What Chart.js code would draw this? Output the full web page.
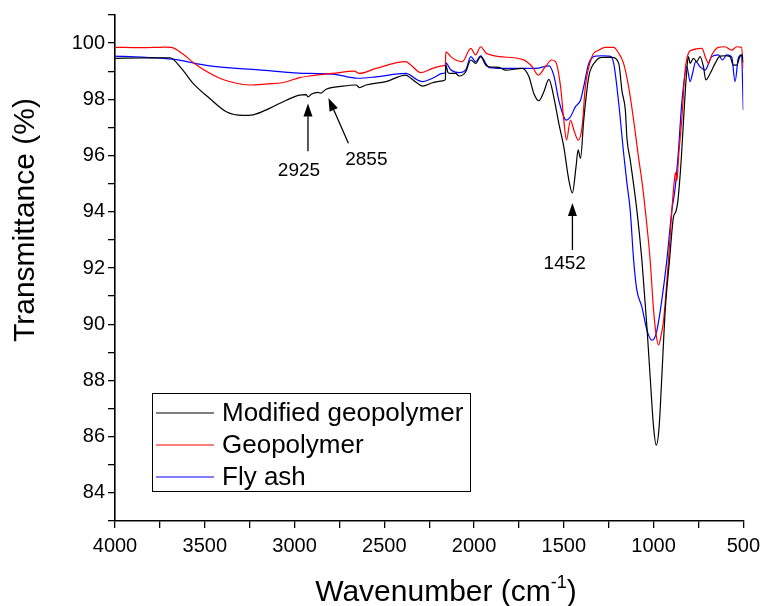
<!DOCTYPE html>
<html>
<head>
<meta charset="utf-8">
<script src="https://cdn.jsdelivr.net/npm/chart.js@4.4.1/dist/chart.umd.min.js"></script>
<style>
  html, body { margin: 0; padding: 0; background: #fff; }
  #ftir { display: block; }
</style>
</head>
<body>
<canvas id="ftir" width="766" height="606"></canvas>
<script>
// FTIR spektri: modifikovani geopolimer, geopolimer, leteći pepeo
const modWn = [4000, 3850, 3694, 3630, 3565, 3472, 3380, 3287, 3231, 3139, 3046, 2972, 2935, 2925, 2905, 2870, 2855, 2824, 2731, 2657, 2639, 2602, 2491, 2380, 2352, 2315, 2287, 2231, 2176, 2160, 2157, 2145, 2130, 2102, 2083, 2046, 2018, 1991, 1963, 1935, 1917, 1861, 1824, 1731, 1694, 1667, 1639, 1611, 1583, 1556, 1528, 1500, 1472, 1452, 1432, 1420, 1407, 1389, 1361, 1324, 1287, 1231, 1194, 1176, 1157, 1148, 1130, 1093, 1065, 1037, 1019, 1000, 985, 969, 954, 935, 911, 889, 876, 865, 852, 846, 833, 815, 806, 796, 778, 759, 741, 722, 709, 685, 657, 630, 602, 574, 556, 537, 519, 506, 500];
const modT = [99.46, 99.47, 99.48, 99.1, 98.57, 98.03, 97.56, 97.43, 97.45, 97.68, 97.97, 98.15, 98.17, 98.09, 98.19, 98.25, 98.22, 98.36, 98.47, 98.51, 98.42, 98.51, 98.63, 98.86, 98.75, 98.57, 98.47, 98.59, 98.66, 98.7, 99.22, 98.95, 98.92, 98.92, 98.83, 98.98, 99.4, 99.28, 99.52, 99.22, 99.16, 99.14, 99.04, 99.1, 98.8, 98.21, 97.95, 98.27, 98.71, 98.09, 97.15, 96.31, 95.13, 94.67, 95.6, 96.2, 95.9, 97.26, 98.8, 99.34, 99.49, 99.49, 99.28, 98.3, 97.6, 96.6, 95.84, 94.06, 92.28, 89.91, 88.13, 86.35, 85.7, 86.35, 88.13, 90.5, 92.28, 93.82, 94.0, 94.36, 95.3, 95.84, 97.26, 99.04, 99.52, 99.28, 99.46, 99.34, 99.52, 99.16, 98.69, 98.92, 99.28, 99.54, 99.55, 99.52, 99.22, 99.22, 99.52, 99.58, 99.3];

const geoWn = [4000, 3850, 3720, 3685, 3620, 3546, 3417, 3330, 3250, 3150, 3067, 2972, 2917, 2787, 2667, 2639, 2546, 2380, 2352, 2296, 2231, 2176, 2160, 2157, 2130, 2102, 2065, 2018, 1991, 1963, 1935, 1917, 1861, 1731, 1676, 1643, 1602, 1568, 1546, 1518, 1500, 1485, 1463, 1444, 1420, 1398, 1380, 1343, 1306, 1268, 1222, 1194, 1167, 1139, 1111, 1083, 1065, 1046, 1019, 1000, 985, 972, 958, 944, 917, 898, 883, 876, 870, 860, 843, 824, 806, 787, 731, 709, 694, 676, 639, 602, 565, 537, 510, 500];
const geoT = [99.85, 99.84, 99.86, 99.85, 99.6, 99.22, 98.75, 98.58, 98.51, 98.55, 98.59, 98.77, 98.83, 98.92, 99.0, 98.92, 99.1, 99.34, 99.22, 98.95, 99.1, 99.19, 99.22, 99.69, 99.52, 99.4, 99.34, 99.81, 99.58, 99.87, 99.66, 99.6, 99.52, 99.42, 99.16, 98.86, 99.16, 99.4, 99.34, 98.45, 97.26, 96.55, 97.26, 96.91, 96.55, 97.02, 98.45, 99.52, 99.75, 99.85, 99.85, 99.64, 99.28, 98.45, 97.26, 95.9, 95.1, 94.06, 92.28, 90.5, 89.6, 89.26, 89.6, 90.15, 92.28, 94.06, 95.19, 95.4, 95.1, 96.0, 97.26, 99.04, 99.64, 99.75, 99.81, 99.46, 99.28, 99.58, 99.85, 99.87, 99.75, 99.87, 99.85, 99.1];

const ashWn = [4000, 3850, 3678, 3472, 3200, 2917, 2787, 2648, 2546, 2380, 2315, 2287, 2231, 2176, 2160, 2157, 2130, 2083, 2046, 2018, 1991, 1963, 1935, 1917, 1806, 1657, 1583, 1556, 1528, 1500, 1487, 1463, 1435, 1407, 1389, 1361, 1324, 1287, 1246, 1222, 1194, 1167, 1148, 1130, 1111, 1093, 1065, 1037, 1009, 995, 981, 954, 926, 898, 880, 861, 843, 815, 796, 783, 765, 741, 713, 676, 639, 616, 593, 565, 546, 528, 510, 500];
const ashT = [99.54, 99.5, 99.43, 99.19, 99.05, 98.92, 98.9, 98.75, 98.8, 98.92, 98.69, 98.63, 98.75, 98.92, 98.95, 99.3, 99.05, 98.95, 99.05, 99.52, 99.34, 99.55, 99.28, 99.13, 99.1, 99.1, 99.19, 98.86, 97.97, 97.38, 97.26, 97.38, 97.74, 97.97, 98.45, 99.28, 99.54, 99.55, 99.54, 99.28, 97.86, 96.1, 95.0, 94.06, 92.28, 91.21, 90.62, 89.79, 89.43, 89.5, 89.79, 90.86, 92.28, 94.06, 94.83, 96.2, 97.86, 99.16, 98.63, 98.92, 99.34, 99.16, 99.04, 99.52, 99.58, 99.4, 99.58, 99.52, 98.63, 99.46, 99.58, 97.62];

const seriesNames = ['Modified geopolymer', 'Geopolymer', 'Fly ash'];
const seriesColors = ['#000000', '#ff0000', '#0000ff'];

// oznacene trake (cm-1)
const bandLabels = ['2925', '2855', '1452'];

const FONT = "'Liberation Sans', Arial, sans-serif";

function toPoints(wn, t) {
  return wn.map((w, i) => ({ x: w, y: t[i] }));
}

function drawArrow(ctx, x0, y0, x1, y1) {
  const ang = Math.atan2(y1 - y0, x1 - x0);
  const head = 13;
  const half = 4.5;
  ctx.beginPath();
  ctx.moveTo(x0, y0);
  ctx.lineTo(x1 - Math.cos(ang) * head, y1 - Math.sin(ang) * head);
  ctx.stroke();
  ctx.beginPath();
  ctx.moveTo(x1, y1);
  ctx.lineTo(x1 - Math.cos(ang) * head + Math.sin(ang) * half, y1 - Math.sin(ang) * head - Math.cos(ang) * half);
  ctx.lineTo(x1 - Math.cos(ang) * head - Math.sin(ang) * half, y1 - Math.sin(ang) * head + Math.cos(ang) * half);
  ctx.closePath();
  ctx.fill();
}

// strelice, nazivi osa i legenda u okviru
const overlayPlugin = {
  id: 'ftirOverlay',
  afterDraw(chart) {
    const { ctx, scales: { x, y } } = chart;
    ctx.save();
    ctx.strokeStyle = '#000';
    ctx.fillStyle = '#000';
    ctx.lineWidth = 1.3;

    // strelice ka trakama
    const arrows = [
      { tail: [2925, 96.15], tip: [2925, 97.85], text: [2975, 95.45] },
      { tail: [2700, 96.44], tip: [2811, 98.05], text: [2600, 95.84] },
      { tail: [1452, 92.64], tip: [1452, 94.31], text: [1495, 92.14] },
    ];
    ctx.font = `19px ${FONT}`;
    ctx.textAlign = 'center';
    ctx.textBaseline = 'middle';
    arrows.forEach((a, i) => {
      drawArrow(ctx,
        x.getPixelForValue(a.tail[0]), y.getPixelForValue(a.tail[1]),
        x.getPixelForValue(a.tip[0]), y.getPixelForValue(a.tip[1]));
      ctx.fillText(bandLabels[i], x.getPixelForValue(a.text[0]), y.getPixelForValue(a.text[1]));
    });

    // naziv y ose
    ctx.save();
    ctx.translate(26, 220);
    ctx.rotate(-Math.PI / 2);
    ctx.font = `30px ${FONT}`;
    ctx.textAlign = 'center';
    ctx.textBaseline = 'middle';
    ctx.fillText('Transmittance (%)', 0, 0);
    ctx.restore();

    // naziv x ose sa eksponentom
    const main = 'Wavenumber (cm';
    const sup = '-1';
    const tail = ')';
    ctx.textBaseline = 'alphabetic';
    ctx.textAlign = 'left';
    ctx.font = `30px ${FONT}`;
    const wMain = ctx.measureText(main).width;
    const wTail = ctx.measureText(tail).width;
    ctx.font = `18px ${FONT}`;
    const wSup = ctx.measureText(sup).width;
    let tx = 446 - (wMain + wSup + wTail) / 2;
    const base = 601;
    ctx.font = `30px ${FONT}`;
    ctx.fillText(main, tx, base);
    tx += wMain;
    ctx.font = `18px ${FONT}`;
    ctx.fillText(sup, tx, base - 13);
    tx += wSup;
    ctx.font = `30px ${FONT}`;
    ctx.fillText(tail, tx, base);

    // legenda
    const bx = 152, by = 393, bw = 318, rowH = 32;
    ctx.lineWidth = 1;
    ctx.strokeStyle = '#000';
    ctx.strokeRect(bx + 0.5, by + 0.5, bw, rowH * 3 + 2);
    ctx.font = `26px ${FONT}`;
    ctx.textBaseline = 'middle';
    chart.data.datasets.forEach((ds, i) => {
      const cy = by + 20 + i * rowH;
      ctx.strokeStyle = ds.borderColor;
      ctx.lineWidth = 1.2;
      ctx.beginPath();
      ctx.moveTo(bx + 4, cy);
      ctx.lineTo(bx + 62, cy);
      ctx.stroke();
      ctx.fillStyle = '#000';
      ctx.fillText(ds.label, bx + 70, cy + 1);
    });
    ctx.restore();
  },
};

const canvasEl = document.getElementById('ftir');
const spectra = [[modWn, modT], [geoWn, geoT], [ashWn, ashT]];

new Chart(canvasEl, {
  type: 'line',
  data: {
    datasets: spectra.map(([wn, t], i) => ({
      label: seriesNames[i],
      data: toPoints(wn, t),
      borderColor: seriesColors[i],
      borderWidth: 1.2,
      pointRadius: 0,
      cubicInterpolationMode: 'monotone',
      fill: false,
    })),
  },
  options: {
    responsive: false,
    devicePixelRatio: 1,
    animation: false,
    layout: { padding: { left: 0, right: 21, top: 15, bottom: 0 } },
    plugins: {
      legend: { display: false },
      tooltip: { enabled: false },
    },
    scales: {
      x: {
        type: 'linear',
        reverse: true,
        min: 500,
        max: 4000,
        ticks: {
          stepSize: 250,
          autoSkip: false,
          maxRotation: 0,
          color: '#000',
          padding: 6,
          font: { family: FONT, size: 20 },
          callback: v => (v % 500 === 0 ? String(v) : ''),
        },
        grid: { drawOnChartArea: false, drawTicks: true, tickLength: 7, color: '#000', lineWidth: 1.3 },
        border: { display: true, color: '#000', width: 1.6 },
        afterFit(scale) { scale.height = 85; },
      },
      y: {
        min: 83,
        max: 101,
        ticks: {
          stepSize: 1,
          autoSkip: false,
          color: '#000',
          padding: 3,
          font: { family: FONT, size: 20 },
          callback: v => (v % 2 === 0 ? String(v) : ''),
        },
        grid: { drawOnChartArea: false, drawTicks: true, tickLength: 7, color: '#000', lineWidth: 1.3 },
        border: { display: true, color: '#000', width: 1.6 },
        afterFit(scale) { scale.width = 115; },
      },
    },
  },
  plugins: [overlayPlugin],
});
</script>
</body>
</html>
